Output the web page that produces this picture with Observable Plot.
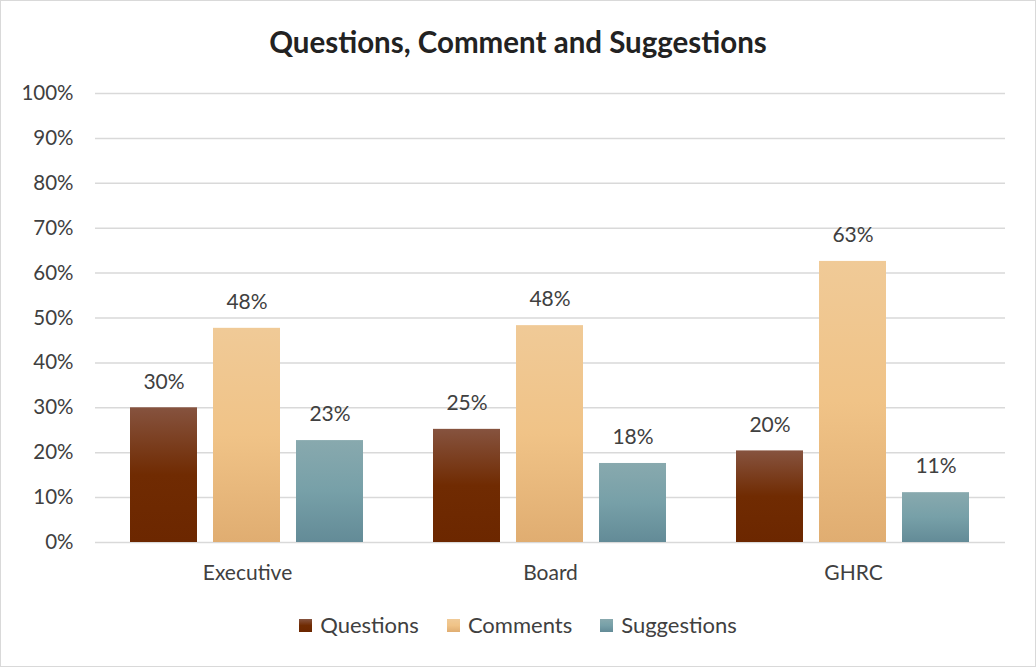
<!DOCTYPE html>
<html><head><meta charset="utf-8">
<script src="https://cdn.jsdelivr.net/npm/d3@7"></script>
<script src="https://cdn.jsdelivr.net/npm/@observablehq/plot@0.6"></script>
<style>
body{margin:0;background:#fff;}
#chart{position:relative;width:1036px;height:667px;box-sizing:border-box;border:1px solid #d9d9d9;background:#fff;font-family:Lato,"Open Sans",sans-serif;color:#404040;overflow:hidden;}
#title{position:absolute;left:0;right:0;top:21px;text-align:center;font-weight:bold;font-size:29.5px;line-height:40px;color:#222;}
#plots{position:absolute;left:0;top:69px;width:1034px;height:530px;}
#plots svg{position:absolute;left:0;top:0;}
#legend{position:absolute;left:0;right:0;top:609px;display:flex;justify-content:center;gap:28px;font-size:22px;line-height:30px;color:#404040;}
#legend .item{display:flex;align-items:center;}
#legend .sw{width:13px;height:13px;margin-right:8px;}
</style>
</head><body>
<div id="chart">
  <div id="title">Questions, Comment and Suggestions</div>
  <div id="plots"></div>
  <div id="legend"></div>
</div>
<script>
const categories = ["Executive", "Board", "GHRC"];
const series = ["Questions", "Comments", "Suggestions"];
const questions = [0.300, 0.252, 0.204];
const comments = [0.477, 0.483, 0.626];
const suggestions = [0.227, 0.176, 0.111];
const yTicks = [0, 0.1, 0.2, 0.3, 0.4, 0.5, 0.6, 0.7, 0.8, 0.9, 1.0];
const gradientIds = ["gQ", "gC", "gS"];
const gradientStops = [
  ["#86533f", "#702b02", "#6c2700"],
  ["#f0ca97", "#f0c387", "#e0ad71"],
  ["#88a9ae", "#77a0a8", "#638b97"]
];

const valuesBySeries = [questions, comments, suggestions];
const rows = categories.flatMap((c, i) => series.map((s, j) => ({category: c, series: s, value: valuesBySeries[j][i]})));
const fmt = d3.format(".0%");

const common = {
  width: 1034, height: 530,
  marginLeft: 94, marginRight: 30, marginTop: 23, marginBottom: 58,
  style: {fontFamily: "Lato, 'Open Sans', sans-serif", fontSize: "21px", color: "#404040", background: "transparent", overflow: "visible"}
};

const back = Plot.plot({
  ...common,
  x: {domain: categories, axis: null},
  y: {domain: [0, 1], axis: null},
  marks: [
    Plot.gridY(yTicks, {stroke: "#d9d9d9", strokeOpacity: 1, strokeWidth: 1.5}),
    Plot.axisY(yTicks, {tickSize: 0, tickPadding: 22, tickFormat: fmt, fontSize: 20.5, fill: "#404040"})
  ]
});

const front = Plot.plot({
  ...common,
  fx: {domain: categories, paddingInner: 0.221, paddingOuter: 0.11, label: null, axis: "bottom", tickSize: 0, tickPadding: 23},
  x: {domain: series, paddingInner: 0.19, paddingOuter: 0, axis: null},
  y: {domain: [0, 1], axis: null},
  color: {domain: series, range: gradientIds.map(id => `url(#${id})`)},
  marks: [
    Plot.barY(rows, {fx: "category", x: "series", y: "value", fill: "series"}),
    Plot.text(rows, {fx: "category", x: "series", y: "value", text: d => fmt(d.value), dy: -26, fontSize: 21, fill: "#404040"})
  ]
});

// gradient defs
const ns = "http://www.w3.org/2000/svg";
const defs = document.createElementNS(ns, "defs");
gradientIds.forEach((id, k) => {
  const g = document.createElementNS(ns, "linearGradient");
  g.setAttribute("id", id);
  g.setAttribute("x1", "0"); g.setAttribute("y1", "0"); g.setAttribute("x2", "0"); g.setAttribute("y2", "1");
  [0, 0.5, 1].forEach((o, m) => {
    const st = document.createElementNS(ns, "stop");
    st.setAttribute("offset", o);
    st.setAttribute("stop-color", gradientStops[k][m]);
    g.appendChild(st);
  });
  defs.appendChild(g);
});
front.insertBefore(defs, front.firstChild);

document.getElementById("plots").append(back, front);

const legend = document.getElementById("legend");
series.forEach((s, k) => {
  const item = document.createElement("div");
  item.className = "item";
  const sw = document.createElement("div");
  sw.className = "sw";
  sw.style.background = `linear-gradient(${gradientStops[k][0]}, ${gradientStops[k][1]}, ${gradientStops[k][2]})`;
  const t = document.createElement("span");
  t.textContent = s;
  item.append(sw, t);
  legend.append(item);
});
</script>
</body></html>
